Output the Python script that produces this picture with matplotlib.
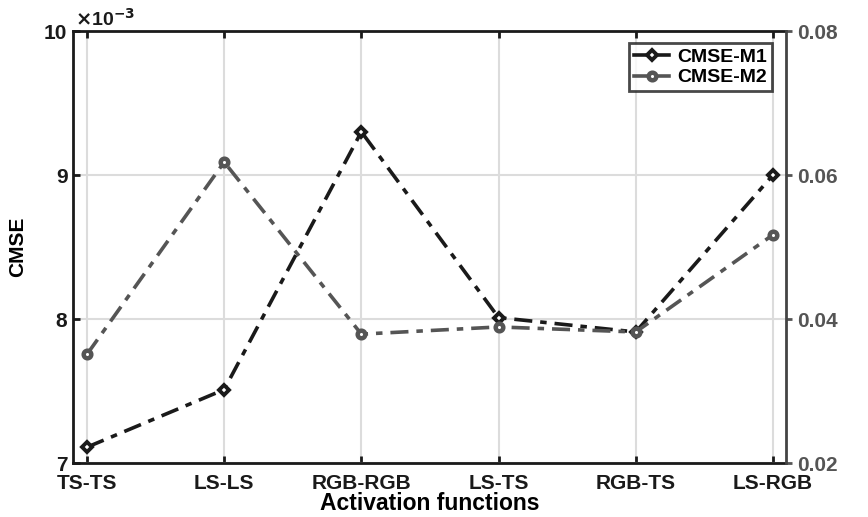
import matplotlib
matplotlib.use("Agg")
import matplotlib.pyplot as plt

categories = ["TS-TS", "LS-LS", "RGB-RGB", "LS-TS", "RGB-TS", "LS-RGB"]
cmse_m1 = [7.11e-3, 7.51e-3, 9.30e-3, 8.01e-3, 7.91e-3, 9.00e-3]
cmse_m2 = [0.0351, 0.0618, 0.0379, 0.0389, 0.0382, 0.0517]

plt.rcParams['font.family'] = ['Liberation Sans', 'DejaVu Sans']
plt.rcParams['font.weight'] = 'bold'

fig = plt.figure(figsize=(8.68, 5.17), dpi=100)
ax = fig.add_axes([0.0841, 0.1044, 0.8214, 0.8356])
ax2 = ax.twinx()

x = list(range(1, len(categories) + 1))
c1 = '#1a1a1a'
c2 = '#555555'

ax.plot(x, cmse_m1, linestyle=(0, (5, 2.2, 1.8, 2.2)), color=c1, lw=2.6,
        marker='D', ms=5, mfc='white', mec=c1, mew=2.8, label='CMSE-M1', zorder=3)
ax2.plot(x, cmse_m2, linestyle=(0, (5, 2.2, 1.8, 2.2)), color=c2, lw=2.6,
         marker='o', ms=5.5, mfc='white', mec=c2, mew=3.2, label='CMSE-M2', zorder=3)

ax.set_xlim(0.898, 6.095)
ax.set_ylim(7e-3, 10e-3)
ax.set_yticks([7e-3, 8e-3, 9e-3, 10e-3])
ax.set_yticklabels(['7', '8', '9', '10'])
ax.set_xticks(x)
ax.set_xticklabels(categories)
ax2.set_ylim(0.02, 0.08)
ax2.set_yticks([0.02, 0.04, 0.06, 0.08])
ax2.set_yticklabels(['0.02', '0.04', '0.06', '0.08'])

ax.grid(True, color='#dcdcdc', lw=1.5)
ax.set_axisbelow(True)

for sp in ['left', 'bottom', 'top']:
    ax.spines[sp].set_linewidth(2)
    ax.spines[sp].set_color('#1a1a1a')
ax.spines['right'].set_visible(False)
for sp in ['left', 'bottom', 'top']:
    ax2.spines[sp].set_visible(False)
ax2.spines['right'].set_linewidth(2)
ax2.spines['right'].set_color('#444444')

ax.tick_params(axis='both', direction='in', length=5, width=2, labelsize=15,
               colors='#1a1a1a', top=True, pad=4)
ax.tick_params(axis='x', pad=8)
ax2.tick_params(axis='y', direction='out', length=4, width=2, labelsize=15,
                colors='#555555', pad=4)
for lab in ax.get_xticklabels() + ax.get_yticklabels() + ax2.get_yticklabels():
    lab.set_fontweight('bold')

ax.set_xlabel('Activation functions', fontsize=16.5, fontweight='bold', labelpad=-1)
ax.set_ylabel('CMSE', fontsize=15, fontweight='bold', labelpad=12)
ax2.set_ylabel('CMSE', fontsize=15, fontweight='bold', color='#333333', rotation=90, labelpad=26)

fig.text(0.086, 0.950, r'$\times$10$^{-3}$', fontsize=14, fontweight='bold', color='#1a1a1a')

h1, l1 = ax.get_legend_handles_labels()
h2, l2 = ax2.get_legend_handles_labels()
leg = ax2.legend(h1 + h2, l1 + l2, loc='upper right', bbox_to_anchor=(0.988, 0.985),
                 frameon=True, fancybox=False, edgecolor='#1a1a1a',
                 prop={'weight': 'bold', 'size': 14}, handlelength=1.8,
                 borderpad=0.25, labelspacing=0.15, handletextpad=0.4, borderaxespad=0.3)
leg.get_frame().set_linewidth(2)
for h in leg.get_lines():
    h.set_linestyle('-')

fig.savefig('out.png', dpi=100)
